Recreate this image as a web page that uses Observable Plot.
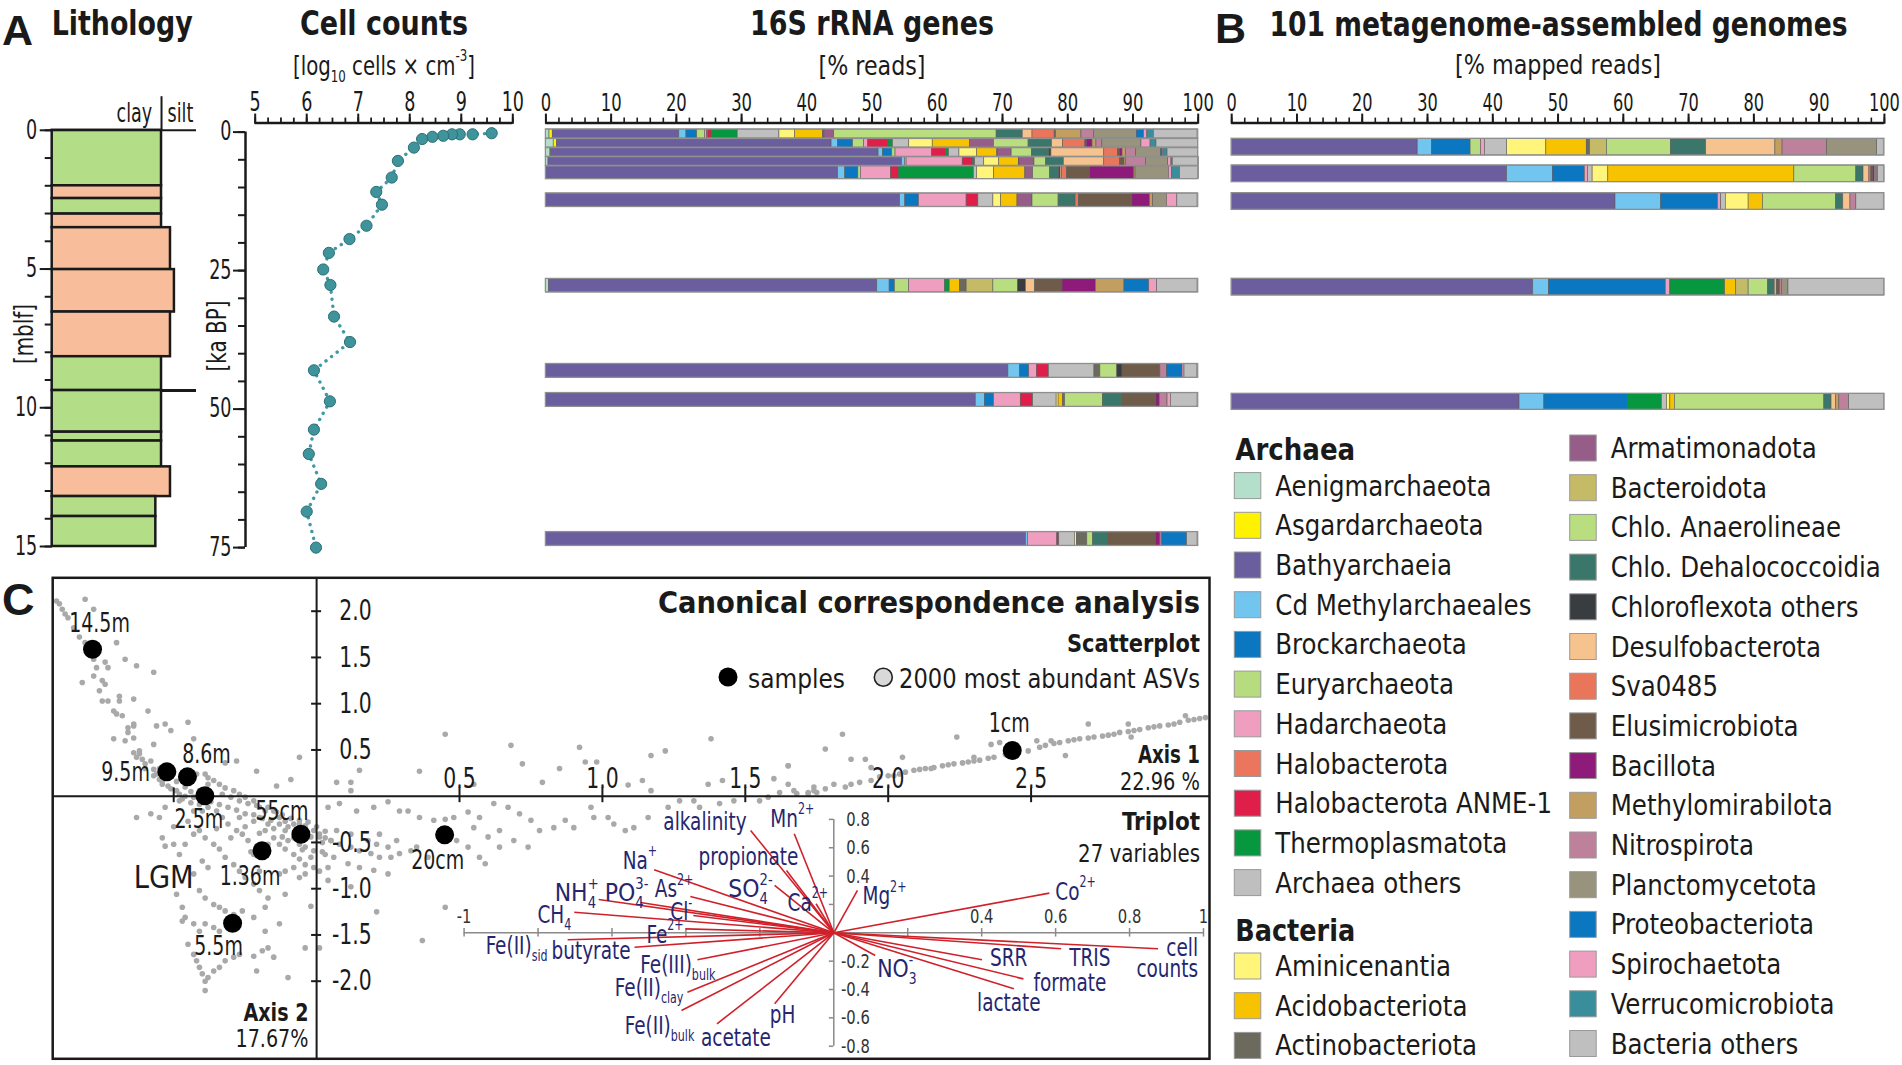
<!DOCTYPE html>
<html><head><meta charset="utf-8">
<script src="https://cdn.jsdelivr.net/npm/d3@7"></script>
<script src="https://cdn.jsdelivr.net/npm/@observablehq/plot@0.6"></script>
<style>
html,body{margin:0;padding:0;background:#fff;overflow:hidden;}
#fig{position:relative;width:1902px;height:1065px;background:#fff;}
#fig svg{position:absolute;overflow:visible;}
</style></head>
<body><div id="fig"></div>
<script>
// ================= DATA =================
// Lithology (depth in m below lake floor)
const lithTop    = [0, 2.0, 2.46, 3.02, 3.51, 5.02, 6.55, 8.16, 9.38, 10.88, 11.2, 12.13, 13.2, 13.92];
const lithBottom = [2.0, 2.46, 3.02, 3.51, 5.02, 6.55, 8.16, 9.38, 10.88, 11.2, 12.13, 13.2, 13.92, 15.0];
const lithType   = ["clay","silt","clay","silt","silt","silt","silt","clay","clay","clay","clay","silt","clay","clay"];
const lithGrain  = [1, 1, 1, 1, 1.082, 1.118, 1.082, 1, 1, 1, 1, 1.082, 0.948, 0.948];
const lgmDepth = 9.38;

// Cell counts (age ka BP, log10 cells per cm3)
const cellAge = [0.2,0.4,0.4,0.4,0.66,0.85,1.25,2.8,5.2,8.2,10.8,13.1,16.9,19.3,21.8,24.8,27.6,33.3,37.9,43.0,48.6,53.7,58.1,63.5,68.5,75.0];
const cellLog = [9.59,9.22,8.97,8.82,8.65,8.44,8.24,8.08,7.77,7.65,7.35,7.46,7.16,6.83,6.43,6.32,6.46,6.53,6.84,6.14,6.45,6.14,6.04,6.28,6.0,6.18];

// Taxa
const archaea = ["Aenigmarchaeota","Asgardarchaeota","Bathyarchaeia","Cd Methylarchaeales","Brockarchaeota","Euryarchaeota","Hadarchaeota","Halobacterota","Halobacterota ANME-1","Thermoplasmatota","Archaea others"];
const bacteria = ["Aminicenantia","Acidobacteriota","Actinobacteriota","Armatimonadota","Bacteroidota","Chlo. Anaerolineae","Chlo. Dehalococcoidia","Chloroflexota others","Desulfobacterota","Sva0485","Elusimicrobiota","Bacillota","Methylomirabilota","Nitrospirota","Planctomycetota","Proteobacteriota","Spirochaetota","Verrucomicrobiota","Bacteria others"];
const archaeaColors = ["#b4e0cb","#fff200","#6b5e9e","#72c5ee","#0b77c0","#b6dc7f","#f09ebf","#eb765d","#df1e4a","#07973f","#bfbfbf"];
const bacteriaColors = ["#fff57a","#f7c200","#6b6a5d","#955d87","#c5bb66","#b8de7f","#3b766a","#393d40","#f6c28e","#e9765b","#6e5b49","#8e1b7a","#c39e61","#bd819c","#97937c","#0b77c0","#f09ebf","#3a8e9b","#bfbfbf"];

// 16S rRNA genes, % reads per sample (taxa order as above)
const s16Values = [
 [0.55,0.5,19.4,1.1,1.65,1.2,0.3,0.2,0.5,4.0,6.4,2.4,4.3,0.2,1.5,0,24.9,4.0,0,1.5,3.4,0.2,0,3.9,1.9,6.6,1.1,0.5,1.0,6.7],
 [1.2,0.5,42.1,1.0,2.3,1.7,0.6,0,3.1,0.7,2.5,3.6,5.7,0,3.7,0,5.3,3.6,0,1.7,3.4,0.2,0.9,0.6,0.9,6.0,0,1.4,0.9,6.4],
 [0.7,0.1,50.2,0.7,1.4,0.5,5.6,0,2.1,0.5,1.6,2.7,3.1,0.1,2.1,0,3.1,2.7,0.3,8.1,2.1,0.3,0.4,0.5,1.6,3.8,0.3,0.2,0.5,4.7],
 [0.4,0,54.2,0.5,0,0.2,8.6,0,1.6,0.3,1.4,2.3,3.0,0.1,2.3,0,1.8,2.7,0,6.2,2.4,0.7,0,0.2,3.1,3.4,0,0.5,0.2,4.0],
 [0,0,44.8,1.1,2.0,0.4,4.6,0,1.2,11.5,0.5,2.6,4.8,0,1.2,0,2.6,1.4,0.2,0.2,0.8,3.5,6.8,0.2,0,5.1,0,0.5,1.2,2.9],
 [0,0,54.3,0.8,2.1,0,7.3,0,1.7,0.1,2.3,1.2,2.5,0,2.3,0,4.0,2.6,0,0,0.5,8.2,2.7,0.5,0,2.1,0,1.6,0,3.1],
 [0.5,0,50.3,1.9,0.8,2.2,5.5,0,0,0.7,0,0,1.6,1.0,0,4.1,3.8,0,1.2,1.4,0,4.2,5.1,4.4,0,0,3.8,1.2,0,6.2],
 [0,0,70.9,1.8,1.4,0,1.2,0,1.8,0,7.0,0,0,0.9,0,0,2.6,0,0.8,0,0,5.8,0,0,1.0,0,2.4,0.3,0,1.9],
 [0,0,65.9,1.4,1.4,0,4.1,0,1.9,0,3.6,0.3,0.7,0.3,0,0,5.8,2.9,0,0,0,5.3,0.5,0,1.2,0,0,0.5,0,4.1],
 [0,0,73.6,0.3,0,0,4.5,0,0.3,0,2.4,0.3,0,1.6,0,0,0.9,2.3,0,0,0,7.3,0.7,0,0.3,0,3.8,0,0,1.6]
];
const s16Top    = [-0.47, 1.24, 2.89, 4.53, 6.17, 11.08, 26.5, 41.86, 47.1, 72.2];
const s16Bottom = [1.17, 2.81, 4.46, 6.1, 8.5, 13.52, 28.94, 44.35, 49.6, 74.7];

// 101 MAGs, % mapped reads
const magValues = [
 [0,0,28.5,2.2,5.9,1.6,0.6,0,0,0,3.4,6.0,6.2,0.5,0,2.6,9.8,5.4,0,10.6,0,0,0,1.1,6.8,7.7,0,0,0,1.0],
 [0,0,42.2,7.0,4.9,0,0.5,0,0,0,0.7,2.4,28.5,0,0,0,9.5,1.1,0,0.9,0.3,0.3,0.2,0,0.3,0.2,0,0,0,1.0],
 [0,0,58.8,7.0,8.7,0,0.5,0,0,0,0.7,3.5,2.2,0,0,0,11.2,1.1,0,1.1,0,0,0,0,0.9,0,0,0,0,4.2],
 [0,0,46.2,2.4,17.9,0,0.7,0,0,8.4,0,0,1.7,0,0,1.9,3.0,1.0,0,0.3,0,0.5,0,0,0.3,1.0,0,0,0,14.7],
 [0,0,44.1,3.8,12.8,0,0,0,0,5.2,0.8,0.5,0.7,0,0,0,22.9,1.1,0,0.7,0,0,0,0.5,1.5,0,0,0,0,5.4]
];
const magTop    = [1.21, 6.03, 11.03, 26.48, 47.24];
const magBottom = [4.22, 9.04, 14.03, 29.49, 50.13];

// CCA samples
const sampleNames = ["14.5m","9.5m","8.6m","2.5m","55cm","1.36m","5.5m","20cm","1cm"];
const sampleAxis1 = [-0.784,-0.524,-0.452,-0.391,-0.055,-0.191,-0.294,0.448,2.434];
const sampleAxis2 = [1.589,0.263,0.209,0.004,-0.411,-0.591,-1.373,-0.418,0.494];

// CCA ASV scores (axis1, axis2)
const asvScores = [
[-0.91,2.11],[-0.90,2.08],[-0.89,2.02],[-0.88,1.97],[-0.87,1.93],[-0.81,2.13],[-0.78,2.02],[-0.85,1.82],[-0.83,1.72],[-0.81,1.66],[-0.70,1.66],[-0.67,1.48],[-0.78,1.48],[-0.77,1.39],[-0.74,1.45],[-0.73,1.39],[-0.78,1.30],[-0.75,1.25],[-0.82,1.23],[-0.74,1.21],[-0.63,1.41],[-0.57,1.34],[-0.76,1.14],[-0.69,1.08],[-0.75,1.03],[-0.73,1.03],[-0.69,1.03],[-0.64,1.05],[-0.71,0.92],[-0.70,0.89],[-0.68,0.87],[-0.59,0.92],[-0.64,0.78],[-0.66,0.74],[-0.64,0.76],[-0.66,0.69],[-0.67,0.60],[-0.71,0.62],[-0.64,0.63],[-0.56,0.76],[-0.53,0.78],[-0.51,0.71],[-0.45,0.80],[-0.43,0.62],[-0.57,0.56],[-0.62,0.49],[-0.64,0.47],[-0.63,0.42],[-0.61,0.40],[-0.60,0.35],[-0.57,0.29],[-0.56,0.24],[-0.55,0.18],[-0.54,0.13],[-0.52,0.11],[-0.49,0.06],[-0.48,0.02],[-0.46,0.00],[-0.43,-0.01],[-0.41,0.06],[-0.38,0.13],[-0.36,0.17],[-0.34,0.13],[-0.32,0.09],[-0.29,0.06],[-0.27,0.02],[-0.25,-0.01],[-0.22,-0.05],[-0.20,-0.12],[-0.18,-0.16],[-0.15,-0.16],[-0.13,-0.23],[-0.11,-0.27],[-0.08,-0.30],[-0.06,-0.30],[-0.04,-0.32],[-0.01,-0.37],[0.01,-0.41],[0.03,-0.45],[0.05,-0.48],[-0.32,0.36],[-0.28,0.38],[-0.21,0.27],[-0.14,0.11],[-0.09,0.18],[-0.06,0.42],[-0.39,0.24],[-0.42,0.24],[-0.38,0.20],
[-0.63,-0.23],[-0.58,-0.19],[-0.55,-0.23],[-0.53,-0.12],[-0.48,-0.05],[-0.43,-0.16],[-0.40,-0.16],[-0.38,-0.12],[-0.35,-0.16],[-0.33,-0.23],[-0.31,-0.30],[-0.28,-0.37],[-0.26,-0.41],[-0.24,-0.48],[-0.21,-0.54],[-0.18,-0.37],[-0.15,-0.45],[-0.13,-0.52],[-0.11,-0.57],[-0.08,-0.63],[-0.06,-0.68],[-0.04,-0.74],[-0.01,-0.77],[0.01,-0.81],[0.04,-0.77],[0.03,-0.63],[-0.01,-0.59],[-0.27,-0.23],[-0.22,-0.27],[-0.20,-0.23],[-0.17,-0.30],[-0.11,-0.37],[-0.10,-0.48],[-0.06,-0.52],[-0.04,-0.55],[-0.11,-0.81],[-0.08,-0.77],[-0.04,-0.84],
[-0.54,-0.45],[-0.53,-0.54],[-0.50,-0.52],[-0.48,-0.63],[-0.46,-0.52],[-0.43,-0.41],[-0.41,-0.37],[-0.39,-0.45],[-0.36,-0.52],[-0.34,-0.57],[-0.32,-0.66],[-0.29,-0.74],[-0.27,-0.81],[-0.25,-0.88],[-0.22,-0.95],[-0.20,-1.02],[-0.40,-0.70],[-0.38,-0.77],[-0.43,-0.84],[-0.41,-1.02],[-0.39,-1.10],[-0.36,-1.17],[-0.34,-1.20],[-0.32,-1.24],[-0.29,-1.28],[-0.49,-1.06],[-0.47,-1.20],[-0.46,-1.31],[-0.43,-1.38],[-0.41,-1.46],[-0.47,-1.35],[-0.45,-1.60],[-0.43,-1.71],[-0.42,-1.78],[-0.41,-1.85],[-0.40,-1.92],[-0.39,-2.00],[-0.39,-2.10],[-0.38,-1.96],[-0.36,-1.89],[-0.34,-1.85],[-0.32,-1.78],[-0.29,-1.74],[-0.27,-1.71],[-0.22,-1.73],[-0.21,-1.89],[-0.19,-1.67],[-0.17,-1.64],[-0.15,-1.74],[-0.10,-1.96],[-0.18,-1.46],[-0.13,-1.38],[-0.11,-1.06],[-0.02,-1.19],[-0.04,-1.64],[0.01,-1.64],[-0.22,-1.31],[-0.26,-1.24],[-0.18,-1.20],[-0.17,-1.10],[-0.20,-0.81],[-0.13,-0.84],[-0.34,-1.46],[-0.36,-1.42],[-0.39,-1.38],[-0.22,-0.63],[-0.06,-0.88],
[-0.62,0.46],[-0.58,0.38],[-0.55,0.30],[-0.52,0.22],[-0.49,0.16],[-0.46,0.10],[-0.44,0.05],[-0.40,0.02],[-0.37,0.03],[-0.33,0.02],[-0.30,-0.01],[-0.27,-0.05],[-0.24,-0.08],[-0.21,-0.10],[-0.17,-0.12],[-0.14,-0.17],[-0.12,-0.20],[-0.09,-0.24],[-0.06,-0.26],[-0.03,-0.28],[0.00,-0.33],[0.03,-0.38],
[-0.60,0.30],[-0.57,0.22],[-0.54,0.16],[-0.51,0.08],[-0.47,-0.03],[-0.44,-0.07],[-0.41,-0.09],[-0.37,-0.06],[-0.34,-0.09],[-0.31,-0.12],[-0.28,-0.15],[-0.25,-0.19],[-0.22,-0.20],[-0.19,-0.24],[-0.16,-0.26],[-0.13,-0.30],[-0.10,-0.33],[-0.07,-0.36],[-0.04,-0.40],[-0.02,-0.44],[0.02,-0.50],[-0.30,-0.45],[-0.25,-0.33],[-0.20,-0.40],[-0.15,-0.35],[-0.12,-0.44],[-0.08,-0.45],[-0.05,-0.58],[-0.02,-0.66],[0.02,-0.60],[-0.35,-0.35],[-0.45,-0.27],[-0.50,-0.33],[-0.23,-0.60],[-0.17,-0.52],
[0.45,0.67],[0.68,0.55],[0.72,0.35],[0.92,0.53],[0.94,0.37],[0.98,0.37],[0.85,0.30],[1.17,0.44],[1.22,0.49],[1.38,0.62],[1.65,0.33],[0.36,0.27],[0.15,0.28],[0.12,0.15],[0.07,0.15],[0.12,0.06],[0.55,0.13],[0.79,0.15],[1.09,0.12],[1.14,0.17],[1.17,0.06],[1.37,0.13],[1.42,0.17],[1.60,0.19],[1.55,-0.05],[1.58,-0.01],[1.62,0.04],[1.67,0.06],[1.72,0.03],[1.75,0.04],
[0.04,-0.12],[0.08,-0.08],[0.14,-0.16],[0.20,-0.12],[0.25,-0.06],[0.29,-0.16],[0.32,-0.16],[0.36,-0.23],[0.41,-0.26],[0.45,-0.25],[0.48,-0.23],[0.53,-0.17],[0.57,-0.23],[0.62,-0.08],[0.67,-0.12],[0.71,-0.19],[0.75,-0.26],[0.78,-0.37],[0.83,-0.34],[0.87,-0.26],[0.90,-0.34],[0.96,-0.12],[0.97,-0.23],[1.02,-0.23],[1.04,-0.30],[1.08,-0.37],[1.11,-0.34],[1.16,-0.23],[1.23,-0.12],[1.27,-0.05],[1.32,-0.05],[1.34,-0.12],[1.41,-0.08],[1.46,-0.05],[0.60,-0.44],[0.64,-0.55],[0.69,-0.48],[0.74,-0.55],[0.64,-0.37],[0.55,-0.34],[0.49,-0.48],[0.53,-0.55],[0.57,-0.66],[0.39,-0.66],[0.35,-0.55],
[0.01,-0.44],[0.05,-0.48],[0.08,-0.52],[0.12,-0.55],[0.15,-0.59],[0.19,-0.62],[0.22,-0.66],[0.26,-0.66],[0.29,-0.62],[0.33,-0.59],[0.21,-0.52],[0.25,-0.55],[0.18,-0.48],[0.12,-0.41],[0.07,-0.37],[0.22,-0.41],[0.28,-0.48],[0.06,-0.66],[0.11,-0.73],[0.15,-0.77],[0.20,-0.80],[0.25,-0.84],[0.04,-0.91],[0.12,-0.98],[0.21,-1.25],[0.45,-1.20],[0.37,-1.56],[0.59,-0.73],
[1.65,0.13],[1.68,0.03],[1.72,0.04],[1.74,0.06],[1.78,0.08],[1.81,0.13],[1.85,0.10],[1.87,0.13],[1.90,0.15],[1.94,0.17],[1.97,0.21],[2.02,0.22],[2.06,0.26],[2.09,0.28],[2.13,0.30],[2.16,0.31],[2.19,0.33],[2.23,0.35],[2.28,0.37],[2.32,0.39],[2.37,0.42],[2.49,0.49],[2.53,0.53],[2.58,0.57],[2.63,0.60],[2.67,0.62],[2.72,0.64],[2.77,0.66],[2.81,0.69],[2.86,0.71],[2.91,0.74],[2.95,0.76],[3.00,0.78],[3.05,0.82],[3.09,0.84],[1.84,0.67],[1.78,0.51],[1.87,0.40],[1.92,0.40],[1.94,0.31],[2.05,0.42],[2.24,0.64],[2.30,0.42],[2.36,0.56],[2.39,0.58],[2.52,0.60],[2.57,0.60],[2.62,0.44],[2.70,0.78],[2.84,0.78],[3.04,0.87],[2.85,0.64],[1.65,0.33],[1.74,0.10],
[2.41,0.45],[2.45,0.47],[2.55,0.55],[2.60,0.58],[2.65,0.61],[2.70,0.63],[2.75,0.65],[2.79,0.67],[2.84,0.70],[2.88,0.72],[2.93,0.75],[2.98,0.77],[3.02,0.80],[3.07,0.83],[3.11,0.85],[2.00,0.22],[2.04,0.24],[2.11,0.29],[2.15,0.30],[2.21,0.34],[2.26,0.36],[2.30,0.38],[2.35,0.41]
];
const ccaYTicks = [2, 1.5, 1, 0.5, -0.5, -1, -1.5, -2];
const ccaXTicks = [-0.5, 0.5, 1, 1.5, 2, 2.5];
const ccaXLabels = [0.5, 1, 1.5, 2, 2.5];

// Triplot environmental variables (biplot scores)
const tripVars = ["alkalinity","Mn^{2+}","propionate","SO_{4}^{2-}","Ca^{2+}","Mg^{2+}","Co^{2+}","cell\ncounts","TRIS","SRR","formate","lactate","NO_{3}^{-}","pH","acetate","Fe(II)_{bulk}","Fe(II)_{clay}","Fe(III)_{bulk}","butyrate","Fe(II)_{sid}","CH_{4}","NH_{4}^{+}","PO_{4}^{3-}","As^{2+}","Na^{+}","Cl^{-}","Fe^{2+}"];
const tripX = [-0.225,-0.107,-0.128,-0.16,-0.048,0.064,0.583,0.877,0.615,0.401,0.513,0.487,0.112,-0.16,-0.316,-0.412,-0.396,-0.369,-0.539,-0.72,-0.702,-0.636,-0.523,-0.388,-0.486,-0.38,-0.401];
const tripY = [0.722,0.699,0.44,0.334,0.205,0.3,0.28,-0.113,-0.113,-0.19,-0.325,-0.395,-0.16,-0.501,-0.642,-0.548,-0.419,-0.19,-0.102,-0.049,0.145,0.235,0.214,0.256,0.445,0.122,0.028];
const tripXTicks = [-1,-0.8,-0.6,-0.4,-0.2,0.2,0.4,0.6,0.8,1];
const tripXLabels = [-1, 0.4, 0.6, 0.8, 1];
const tripYTicks = [0.8,0.6,0.4,0.2,-0.2,-0.4,-0.6,-0.8];
const tripYLabels = [0.8,0.6,0.4,-0.2,-0.4,-0.6,-0.8];

// ================= LAYOUT / STYLE =================
const FONT = '"Liberation Sans Narrow","Arial Narrow","DejaVu Sans Condensed","DejaVu Sans",sans-serif';
const FONT_WIDE = '"Liberation Sans",Arial,sans-serif';
const NARROW = 0.82;   // horizontal compression for words (mimics a narrow face)
const DIGITS = 0.75;   // horizontal compression for numeric labels
const INK = "#1a1a1a";
const baseStyle = {fontFamily: FONT, fontSize: "25px", background: "transparent", overflow: "visible", color: INK};
const fig = document.getElementById("fig");
function condense(svg, factor = NARROW) {
  svg.querySelectorAll("text").forEach(t => {
    const lines = t.querySelectorAll("tspan[x]");
    const targets = lines.length ? Array.from(lines) : [t];
    targets.forEach(el => {
      const w = el.getComputedTextLength();
      if (w > 0) { el.setAttribute("textLength", (w * factor).toFixed(2)); el.setAttribute("lengthAdjust", "spacingAndGlyphs"); }
    });
  });
}
function place(svg, left, top, factor = NARROW) {
  svg.style.left = left + "px"; svg.style.top = top + "px"; fig.appendChild(svg);
  if (factor) condense(svg, factor);
  return svg;
}
const taxa = archaea.concat(bacteria);
const taxaColors = archaeaColors.concat(bacteriaColors);
const intFmt = d3.format("d");

// ---------- Lithology ----------
const litho = lithTop.map((t, i) => ({top: t, bottom: lithBottom[i], grain: lithGrain[i], type: lithType[i]}));
place(Plot.plot({
  width: 220, height: 560, marginLeft: 51.7, marginRight: 24, marginTop: 129.8, marginBottom: 14,
  x: {domain: [0, 1.32], axis: null},
  y: {domain: [0, 15], reverse: true},
  color: {domain: ["clay", "silt"], range: ["#b3dd86", "#f8bd9b"]},
  style: baseStyle,
  marks: [
    Plot.rect(litho, {x1: 0, x2: "grain", y1: "top", y2: "bottom", fill: "type", stroke: INK, strokeWidth: 2.5}),
    Plot.ruleY([0], {x1: 0, x2: 1.32, stroke: INK, strokeWidth: 2}),
    Plot.ruleX([1], {y1: -1.21, y2: 0, stroke: INK, strokeWidth: 2}),
    Plot.ruleY([lgmDepth], {x1: 1, x2: 1.32, stroke: INK, strokeWidth: 3}),
    Plot.text(["clay"], {x: 0.915, y: -0.6, text: d => d, textAnchor: "end", fontSize: 26}),
    Plot.text(["silt"], {x: 1.055, y: -0.6, text: d => d, textAnchor: "start", fontSize: 26}),
    Plot.axisY({anchor: "left", ticks: [0, 5, 10, 15], tickSize: 12, tickPadding: 3, tickFormat: intFmt, label: null, strokeWidth: 2, fontSize: 26}),
    Plot.axisY({anchor: "left", ticks: d3.range(0, 16), tickSize: 7, tickFormat: () => "", label: null, strokeWidth: 2})
  ]
}), 0, 0, DIGITS);

// ---------- Cell counts ----------
const cells = cellAge.map((a, i) => ({age: a, log: cellLog[i]}));
place(Plot.plot({
  width: 333, height: 560, marginLeft: 54.7, marginRight: 20.7, marginTop: 131.6, marginBottom: 12.9,
  x: {domain: [5, 10]}, y: {domain: [0, 75], reverse: true},
  style: baseStyle,
  marks: [
    Plot.axisX({anchor: "top", ticks: [5, 6, 7, 8, 9, 10], tickSize: 10, tickPadding: 2, tickFormat: intFmt, dy: -9, label: null, strokeWidth: 2, fontSize: 26}),
    Plot.axisX({anchor: "top", ticks: d3.range(5, 10.001, 0.25), tickSize: 6, tickFormat: () => "", dy: -9, label: null, strokeWidth: 1.8}),
    Plot.ruleY([0], {x1: 5, x2: 10, dy: -9, stroke: INK, strokeWidth: 2.5}),
    Plot.axisY({anchor: "left", ticks: [0, 25, 50, 75], tickSize: 12, tickPadding: 2, tickFormat: intFmt, dx: -9.7, label: null, strokeWidth: 2, fontSize: 26}),
    Plot.axisY({anchor: "left", ticks: d3.range(0, 76, 5), tickSize: 7, tickFormat: () => "", dx: -9.7, label: null, strokeWidth: 2}),
    Plot.ruleX([5], {y1: 0, y2: 75, dx: -9.7, stroke: INK, strokeWidth: 2.5}),
    Plot.line(cells, {x: "log", y: "age", stroke: "#3f9aa2", strokeWidth: 3.4, strokeDasharray: "0.1 7", strokeLinecap: "round"}),
    Plot.dot(cells, {x: "log", y: "age", r: 5.6, fill: "#3f939b", stroke: "#2b6f77", strokeWidth: 1})
  ]
}), 200, 0, DIGITS);

// ---------- Stacked bars ----------
function stackRows(values, tops, bottoms) {
  return values.flatMap((vals, i) => vals.map((v, j) => ({taxon: taxa[j], value: v, top: tops[i], bottom: bottoms[i]})).filter(d => d.value > 0));
}
function barPlot(values, tops, bottoms, marginLeft, width, marginRight) {
  const rows = stackRows(values, tops, bottoms);
  const outlines = tops.map((t, i) => ({t, b: bottoms[i]}));
  return Plot.plot({
    width, height: 560, marginLeft, marginRight, marginTop: 131.6, marginBottom: 12.9,
    x: {domain: [0, 100]}, y: {domain: [0, 75], reverse: true, axis: null},
    color: {domain: taxa, range: taxaColors},
    style: baseStyle,
    marks: [
      Plot.axisX({anchor: "top", ticks: d3.range(0, 101, 10), tickSize: 10, tickPadding: 2, tickFormat: intFmt, dy: -9, label: null, strokeWidth: 2, fontSize: 25}),
      Plot.axisX({anchor: "top", ticks: d3.range(0, 101, 2), tickSize: 6, tickFormat: () => "", dy: -9, label: null, strokeWidth: 1.6}),
      Plot.ruleY([0], {x1: 0, x2: 100, dy: -9, stroke: INK, strokeWidth: 2.5}),
      Plot.rectX(rows, {x: "value", y1: "top", y2: "bottom", fill: "taxon", stroke: "#5c5c5c", strokeWidth: 0.6}),
      Plot.rect(outlines, {x1: 0, x2: 100, y1: "t", y2: "b", fill: "none", stroke: "#8f8f8f", strokeWidth: 1.3})
    ]
  });
}
place(barPlot(s16Values, s16Top, s16Bottom, 45.4, 710, 12.3), 500, 0, 0.73);
place(barPlot(magValues, magTop, magBottom, 31.2, 700, 16.1), 1200, 0, 0.72);

// ---------- CCA scatter ----------
const asv = asvScores.map(([x, y]) => ({x, y}));
const samples = sampleNames.map((n, i) => ({name: n, x: sampleAxis1[i], y: sampleAxis2[i]}));
const sampleLabelOffsets = {"14.5m": [7, -26, "middle"], "9.5m": [-17, 0, "end"], "8.6m": [19, -23, "middle"], "2.5m": [-6, 24, "middle"],
  "55cm": [-19, -23, "middle"], "1.36m": [-12, 25, "middle"], "5.5m": [-14, 23, "middle"], "20cm": [-7, 25, "middle"], "1cm": [-3, -27, "middle"]};
place(Plot.plot({
  width: 1161, height: 486, marginLeft: 2.2, marginRight: 2, marginTop: 2.3, marginBottom: 2.7,
  x: {domain: [-0.9234, 3.1242], axis: null},
  y: {domain: [-2.8389, 2.3611], axis: null},
  style: baseStyle,
  marks: [
    Plot.dot(asv, {x: "x", y: "y", r: 2.8, fill: "#a9a9a9"}),
    Plot.ruleX([0], {stroke: INK, strokeWidth: 2}),
    Plot.ruleY([0], {stroke: INK, strokeWidth: 2}),
    Plot.ruleY(ccaYTicks, {x1: -0.0175, x2: 0.0175, stroke: INK, strokeWidth: 2}),
    Plot.text(ccaYTicks, {x: 0, y: d => d, text: d => d.toFixed(1), textAnchor: "end", dx: 55, fontSize: 29}),
    Plot.ruleX(ccaXTicks, {y1: -0.07, y2: 0.09, stroke: INK, strokeWidth: 2}),
    Plot.text(ccaXLabels, {x: d => d, y: 0, text: d => d.toFixed(1), dy: -17, fontSize: 29}),
    Plot.dot(samples, {x: "x", y: "y", r: 9.5, fill: "#000"}),
    ...samples.map(s => {
      const [dx, dy, anchor] = sampleLabelOffsets[s.name];
      return Plot.text([s], {x: "x", y: "y", text: "name", dx, dy, textAnchor: anchor, fontSize: 27});
    }),
    Plot.frame({stroke: INK, strokeWidth: 2.5})
  ]
}), 50, 575, 0.78);

// ---------- Triplot ----------
const vars = tripVars.map((n, i) => ({name: n, x: tripX[i], y: tripY[i]}));
const tripLabelOffsets = {
  "alkalinity": [-4, -7, "end"], "Mn^{2+}": [-2, -14, "middle"], "propionate": [-38, -12, "middle"], "SO_{4}^{2-}": [-2, 5, "end"],
  "Ca^{2+}": [12, 0, "end"], "Mg^{2+}": [5, 7, "start"], "Co^{2+}": [6, 0, "start"], "cell\ncounts": [40, 11, "end"],
  "TRIS": [8, 10, "start"], "SRR": [8, -1, "start"], "formate": [10, 5, "start"], "lactate": [-5, 15, "middle"],
  "NO_{3}^{-}": [2, 15, "start"], "pH": [8, 12, "middle"], "acetate": [19, 15, "middle"], "Fe(II)_{bulk}": [-22, 17, "middle"],
  "Fe(II)_{clay}": [-4, -3, "end"], "Fe(III)_{bulk}": [18, 6, "end"], "butyrate": [-4, 5, "end"], "Fe(II)_{sid}": [-20, 7, "end"],
  "CH_{4}": [-3, 4, "end"], "NH_{4}^{+}": [0, -5, "end"], "PO_{4}^{3-}": [8, -8, "end"], "As^{2+}": [3, -6, "end"],
  "Na^{+}": [3, -8, "end"], "Cl^{-}": [-1, -2, "end"], "Fe^{2+}": [-2, 7, "end"]};
const NAVY = "#26266e";

// rich text: _{sub} and ^{sup}
function parseRich(s) {
  const segs = []; const re = /([_^])\{([^}]*)\}/g; let last = 0, m;
  while ((m = re.exec(s))) { if (m.index > last) segs.push({t: s.slice(last, m.index), k: "n"}); segs.push({t: m[2], k: m[1] === "_" ? "sub" : "sup"}); last = re.lastIndex; }
  if (last < s.length) segs.push({t: s.slice(last), k: "n"});
  return segs;
}
function fillRich(textNode, str) {
  const sel = d3.select(textNode); sel.text(null);
  const shift = {n: 0, sub: 0.28, sup: -0.5}; const scale = {n: 1, sub: 0.6, sup: 0.6};
  let cur = 0, prev = null;
  for (const sg of parseRich(str)) {
    const ts = sel.append("tspan").text(sg.t);
    const target = shift[sg.k], s = scale[sg.k];
    if (s !== 1) ts.attr("font-size", (s * 100) + "%");
    if (target !== cur) ts.attr("dy", ((target - cur) / s).toFixed(3) + "em");
    if (sg.k === "sup" && prev && prev.k === "sub") ts.attr("dx", -prev.node.getComputedTextLength());
    cur = target; prev = {k: sg.k, node: ts.node()};
  }
}

const tripSvg = Plot.plot({
  width: 780, height: 258, marginLeft: 23.6, marginRight: 17, marginTop: 18.9, marginBottom: 12.3,
  x: {domain: [-1, 1], axis: null}, y: {domain: [-0.8, 0.8], axis: null},
  style: baseStyle,
  marks: [
    Plot.ruleY([0], {x1: -1, x2: 1, stroke: "#8a8a8a", strokeWidth: 1.5}),
    Plot.ruleX([0], {y1: -0.8, y2: 0.8, stroke: "#8a8a8a", strokeWidth: 1.5}),
    Plot.ruleX(tripXTicks, {y1: -0.03, y2: 0.03, stroke: "#8a8a8a", strokeWidth: 1.5}),
    Plot.ruleY(tripYTicks, {x1: -0.012, x2: 0, stroke: "#8a8a8a", strokeWidth: 1.5}),
    Plot.text(tripXLabels, {x: d => d, y: 0, text: d => String(d), dy: -16, fontSize: 20, fill: "#333"}),
    Plot.text(tripYLabels, {x: 0, y: d => d, text: d => d.toFixed(1), dx: 36, textAnchor: "end", fontSize: 20, fill: "#333"}),
    Plot.link(vars, {x1: 0, y1: 0, x2: "x", y2: "y", stroke: "#d0212a", strokeWidth: 1.6}),
    ...vars.map(v => {
      const [dx, dy, anchor] = tripLabelOffsets[v.name];
      return Plot.text([v], {x: "x", y: "y", text: "name", dx, dy, textAnchor: anchor, fontSize: 25, fill: NAVY, lineHeight: 0.85});
    })
  ]
});
place(tripSvg, 440, 800, null);
d3.select(tripSvg).selectAll("text").each(function () {
  const s = this.textContent; if (/[_^]\{/.test(s)) fillRich(this, s);
});
condense(tripSvg, NARROW);

// ---------- Overlay: titles, axis labels, legends ----------
const ov = d3.create("svg").attr("width", 1902).attr("height", 1065).style("left", "0px").style("top", "0px").style("pointer-events", "none");
fig.appendChild(ov.node());
function txt(x, y, str, o = {}) {
  const size = o.size || 25;
  const t = ov.append("text").attr("x", x).attr("y", y).attr("font-size", size)
    .attr("font-weight", o.bold ? "bold" : null).attr("text-anchor", o.anchor || "start")
    .attr("fill", o.fill || INK).style("font-family", o.family || FONT);
  if (o.rotate) t.attr("transform", `rotate(${o.rotate},${x},${y})`).attr("dominant-baseline", "central");
  if (/[_^]\{/.test(str)) fillRich(t.node(), str); else t.text(str);
  const w = t.node().getComputedTextLength();
  const target = o.fit ? o.fit : (o.squeeze === false ? null : w * (o.squeeze || NARROW));
  if (target && w > 0) t.attr("textLength", target).attr("lengthAdjust", "spacingAndGlyphs");
  return t;
}
// Panel A
txt(2, 45, "A", {size: 43, bold: true, family: FONT_WIDE, squeeze: false});
txt(51.7, 34.5, "Lithology", {size: 33, bold: true, fit: 141});
txt(23, 334, "[mblf]", {size: 27, anchor: "middle", rotate: -90});
txt(384, 34.5, "Cell counts", {size: 33, bold: true, anchor: "middle", fit: 168});
txt(384, 74.5, "[log_{10} cells × cm^{-3}]", {size: 27, anchor: "middle", fit: 182});
txt(216, 336, "[ka BP]", {size: 27, anchor: "middle", rotate: -90});
txt(872, 34.5, "16S rRNA genes", {size: 33, bold: true, anchor: "middle", fit: 244});
txt(872, 74.5, "[% reads]", {size: 27, anchor: "middle", fit: 107});
// Panel B
txt(1215, 43, "B", {size: 43, bold: true, family: FONT_WIDE, squeeze: false});
txt(1269.6, 36, "101 metagenome-assembled genomes", {size: 33, bold: true, fit: 578});
txt(1558, 74, "[% mapped reads]", {size: 27, anchor: "middle", fit: 206});
// Taxa legend
const legSqueeze = (() => { const t = txt(0, -100, "Halobacterota ANME-1", {size: 29, squeeze: false}); const w = t.node().getComputedTextLength(); t.remove(); return w > 0 ? 276.7 / w : NARROW; })();
function legendItem(x, baseline, name) {
  ov.append("rect").attr("x", x).attr("y", baseline - 23).attr("width", 26.5).attr("height", 26)
    .attr("fill", taxaColors[taxa.indexOf(name)]).attr("stroke", "#999").attr("stroke-width", 1);
  txt(x + 41, baseline, name, {size: 29, squeeze: legSqueeze});
}
txt(1235.2, 460, "Archaea", {size: 31, bold: true, fit: 120});
archaea.forEach((n, i) => legendItem(1234.3, 495.6 + i * 39.7, n));
txt(1235.2, 940.5, "Bacteria", {size: 31, bold: true, fit: 120});
bacteria.slice(0, 3).forEach((n, i) => legendItem(1234.3, 976 + i * 39.7, n));
bacteria.slice(3).forEach((n, i) => legendItem(1569.7, 458 + i * 39.7, n));
// Panel C
txt(2, 615, "C", {size: 45, bold: true, family: FONT_WIDE, squeeze: false});
txt(1200, 613.3, "Canonical correspondence analysis", {size: 30, bold: true, anchor: "end", fit: 542});
txt(1200, 651.7, "Scatterplot", {size: 24, bold: true, anchor: "end", fit: 133});
ov.append("circle").attr("cx", 728).attr("cy", 677).attr("r", 9.5).attr("fill", "#000");
txt(748, 688.3, "samples", {size: 26, fit: 97});
ov.append("circle").attr("cx", 883.3).attr("cy", 677.3).attr("r", 9).attr("fill", "#d9d9d9").attr("stroke", "#222").attr("stroke-width", 1.6);
txt(1200, 688.3, "2000 most abundant ASVs", {size: 26, anchor: "end", fit: 301});
txt(1200, 763.3, "Axis 1", {size: 25, bold: true, anchor: "end", fit: 62});
txt(1200, 790, "22.96 %", {size: 25, anchor: "end", fit: 80});
txt(308.5, 1021, "Axis 2", {size: 25, bold: true, anchor: "end", fit: 65});
txt(308.5, 1047, "17.67%", {size: 25, anchor: "end", fit: 73});
txt(163.7, 888, "LGM", {size: 32, anchor: "middle", fit: 60});
txt(1200, 830, "Triplot", {size: 25, bold: true, anchor: "end", fit: 78});
txt(1200, 861.7, "27 variables", {size: 25, anchor: "end", fit: 122});
</script></body></html>
